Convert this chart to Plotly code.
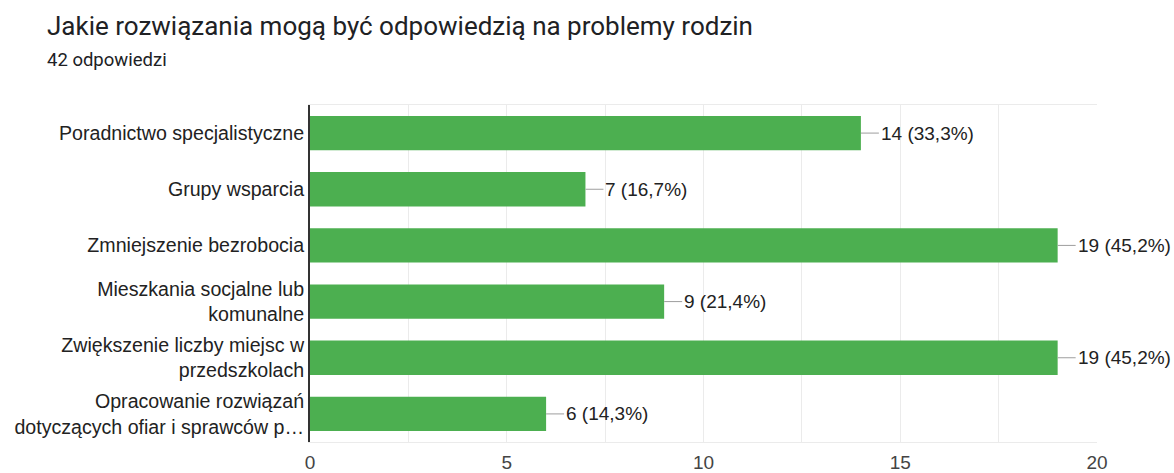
import plotly.graph_objects as go

categories = [
    "Poradnictwo specjalistyczne",
    "Grupy wsparcia",
    "Zmniejszenie bezrobocia",
    "Mieszkania socjalne lub<br>komunalne",
    "Zwiększenie liczby miejsc w<br>przedszkolach",
    "Opracowanie rozwiązań<br>dotyczących ofiar i sprawców p…",
]
counts = [14, 7, 19, 9, 19, 6]
percent_labels = ["33,3%", "16,7%", "45,2%", "21,4%", "45,2%", "14,3%"]
x_ticks = [0, 5, 10, 15, 20]

title_text = "Jakie rozwiązania mogą być odpowiedzią na problemy rodzin"
subtitle_text = "42 odpowiedzi"

GREEN = "#4caf50"
LABEL_FONT = "Liberation Sans, Arial, sans-serif"

fig = go.Figure(
    go.Bar(
        x=counts,
        y=categories,
        orientation="h",
        marker=dict(color=GREEN, line=dict(width=0)),
        width=0.61,
        hoverinfo="skip",
    )
)

annotations = []
for c, v, p in zip(categories, counts, percent_labels):
    annotations.append(
        dict(
            x=v, y=c, xref="x", yref="y",
            text=f"{v} ({p})",
            showarrow=True, arrowhead=0, arrowwidth=1, arrowcolor="#9e9e9e",
            ax=18, ay=0, standoff=0, startstandoff=0,
            xanchor="left", yanchor="middle",
            font=dict(family=LABEL_FONT, size=19, color="#222222"),
        )
    )

annotations.append(
    dict(
        text=subtitle_text, xref="paper", yref="paper",
        x=-0.3367, y=1.1335, xanchor="left", yanchor="middle",
        showarrow=False,
        font=dict(family="Roboto, sans-serif", size=18.5, color="#202124"),
    )
)

fig.update_layout(
    width=1174, height=473,
    margin=dict(l=310, r=77, t=105, b=31, autoexpand=False),
    paper_bgcolor="white", plot_bgcolor="white",
    title=dict(
        text=title_text, xref="container", yref="container",
        x=47 / 1174, y=1 - 26 / 473, xanchor="left", yanchor="middle",
        font=dict(family="Roboto, sans-serif", size=26, color="#202124"),
    ),
    annotations=annotations,
    showlegend=False,
    bargap=0.39,
)

fig.update_xaxes(
    range=[0, 20], tickvals=x_ticks, ticktext=[str(t) for t in x_ticks],
    showgrid=True, gridcolor="#ebebeb", gridwidth=1,
    minor=dict(dtick=2.5, showgrid=True, gridcolor="#ebebeb", gridwidth=1),
    zeroline=False,
    showline=True, linecolor="#ebebeb", linewidth=1, mirror=True,
    ticks="", ticklabelstandoff=3, automargin=False,
    tickfont=dict(family=LABEL_FONT, size=19, color="#444444"),
    fixedrange=True,
)
fig.update_yaxes(
    categoryorder="array", categoryarray=categories[::-1],
    showgrid=False, zeroline=False,
    showline=True, linecolor="#333333", linewidth=2,
    ticks="", ticklabelstandoff=0, automargin=False,
    tickfont=dict(family=LABEL_FONT, size=19.6, color="#222222"),
    fixedrange=True,
)

fig.write_html(
    "out.html",
    config=dict(displayModeBar=False),
    post_script="document.body.style.margin='0';",
)
